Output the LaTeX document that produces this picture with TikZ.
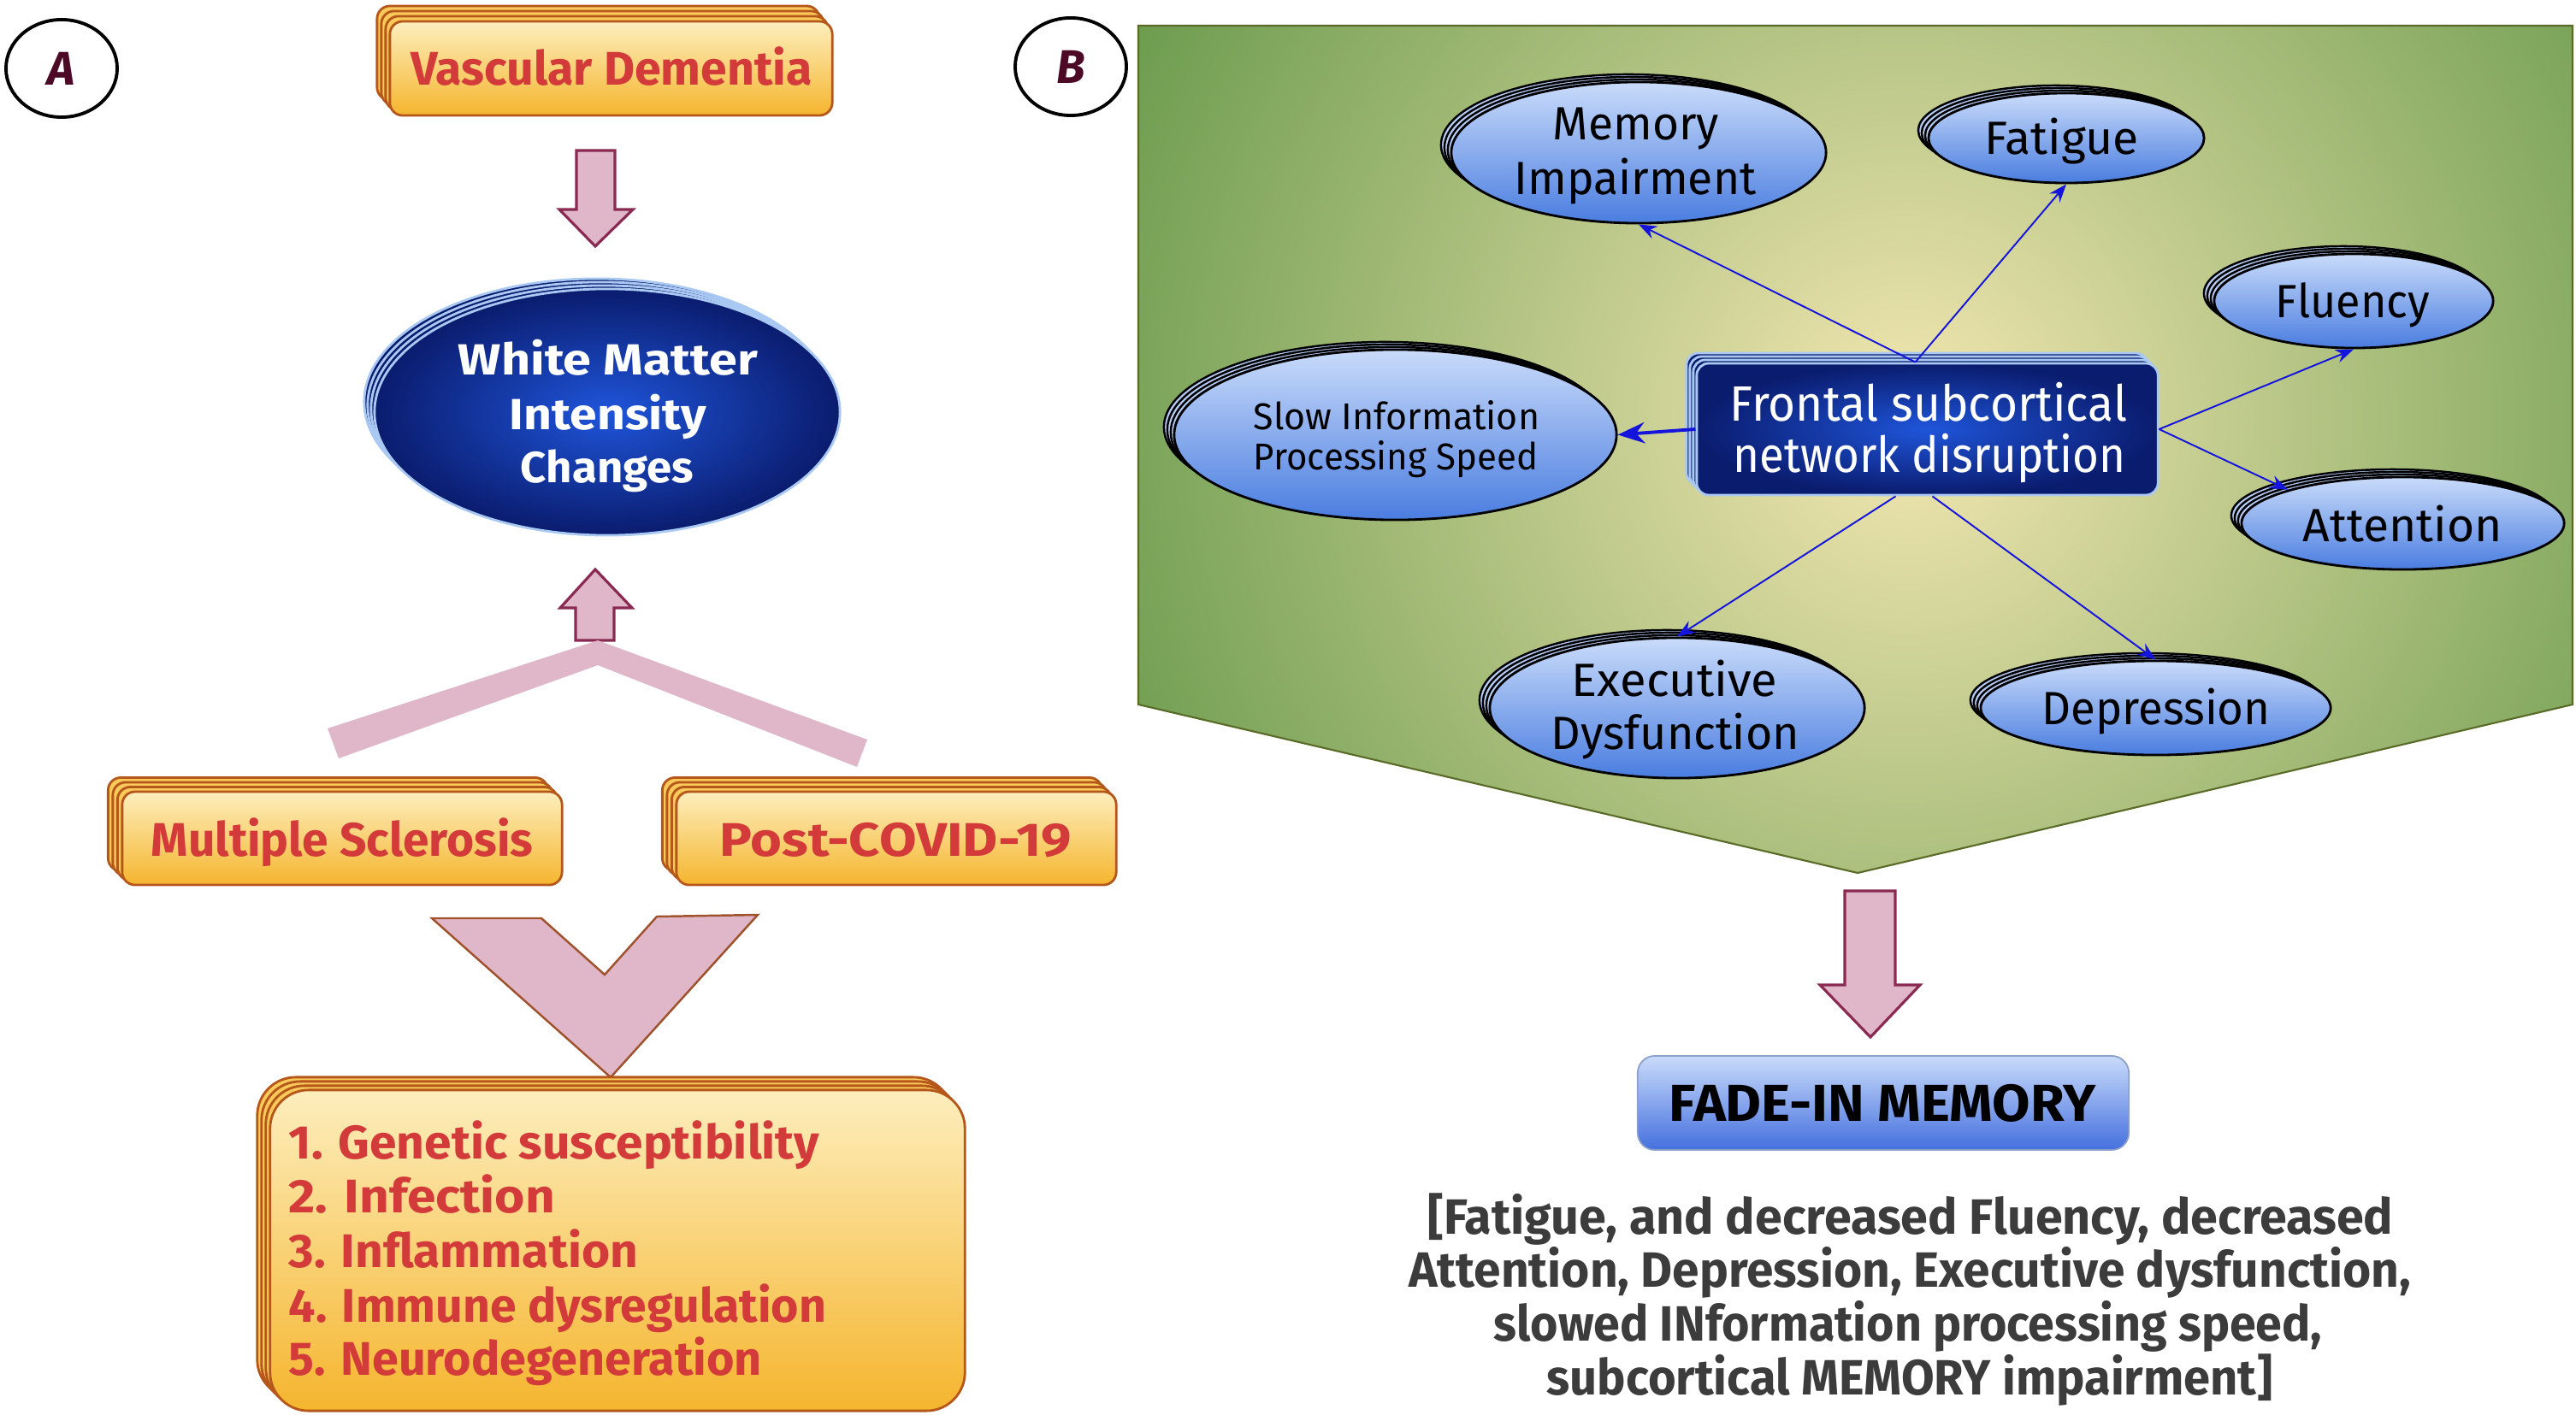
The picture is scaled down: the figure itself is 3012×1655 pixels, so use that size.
\documentclass[tikz,border=0pt]{standalone}
\usepackage{fontspec}
\setmainfont{Fira Sans}
\usetikzlibrary{shapes.geometric,arrows.meta}
\definecolor{redtxt}{HTML}{D33A3A}
\definecolor{obord}{HTML}{B5561A}
\definecolor{otop}{HTML}{FDEEBD}
\definecolor{obot}{HTML}{F5B52E}
\definecolor{olay}{HTML}{F9C95A}
\definecolor{pinkf}{HTML}{DFB7C9}
\definecolor{maroonb}{HTML}{8A2A52}
\definecolor{chevb}{HTML}{A0522D}
\definecolor{navyin}{HTML}{1F55DA}
\definecolor{navyout}{HTML}{0A1C6E}
\definecolor{lbord}{HTML}{A9C9F2}
\definecolor{btop}{HTML}{C9DBFA}
\definecolor{bbot}{HTML}{4A7DE0}
\definecolor{blay}{HTML}{B7CDF5}
\definecolor{gout}{HTML}{6E9D50}
\definecolor{gin}{HTML}{F3E7B2}
\definecolor{gbord}{HTML}{5A6B28}
\definecolor{linkb}{HTML}{1414DC}
\definecolor{grtxt}{HTML}{3C3C3C}
\definecolor{lettc}{HTML}{4C0A26}
\definecolor{fadebot}{HTML}{4570DF}
\definecolor{fadebord}{HTML}{8AA0C8}
\newcommand\fw[2]{\resizebox{#1cm}{\height}{#2}}
\newcommand\fsz[1]{\fontsize{#1}{#1}\selectfont}
% name, cx, cy, w(cm), h(cm), layer style, front style, dx, dy
\newcommand\stackbox[9]{%
  \foreach \k in {3,2,1}{\node[#6, minimum width=#4cm, minimum height=#5cm] at ({#2-#8*\k},{#3-#9*\k}) {};}%
  \node[#7, minimum width=#4cm, minimum height=#5cm] (#1) at (#2,#3) {};}
\tikzset{
  obox/.style={draw=obord, line width=0.8pt, rounded corners=0.15cm, top color=otop, bottom color=obot, inner sep=0},
  olayer/.style={draw=obord, line width=0.8pt, rounded corners=0.15cm, fill=olay, inner sep=0},
  oboxL/.style={obox, rounded corners=0.45cm},
  olayerL/.style={olayer, rounded corners=0.45cm},
  nell/.style={ellipse, draw=lbord, line width=0.8pt, inner color=navyin, outer color=navyout, inner sep=0},
  nlayer/.style={ellipse, draw=lbord, line width=0.8pt, fill=navyout, inner sep=0},
  fbox/.style={draw=lbord, line width=0.8pt, rounded corners=0.14cm, inner color=navyin, outer color=navyout, inner sep=0},
  flayer/.style={draw=lbord, line width=0.8pt, rounded corners=0.14cm, fill=navyout, inner sep=0},
  bell/.style={ellipse, draw=black, line width=0.8pt, top color=btop, bottom color=bbot, inner sep=0},
  blayer/.style={ellipse, draw=black, line width=0.7pt, fill=blay, inner sep=0},
  circ/.style={ellipse, draw=black, line width=1.1pt, minimum width=1.30cm, minimum height=1.14cm, inner sep=0, text=lettc, font=\fsz{15.7}\bfseries\itshape},
  lefttxt/.style={inner sep=0, anchor=base, text=redtxt, font=\fsz{15.7}\bfseries},
  listtxt/.style={lefttxt, anchor=base west},
  wtxt/.style={inner sep=0, anchor=base, text=white, font=\fsz{14.5}\bfseries},
  rtxt/.style={inner sep=0, anchor=base, text=black, font=\fsz{15.5}},
  stxt/.style={rtxt, font=\fsz{12.4}},
  fsntxt/.style={inner sep=0, anchor=base, text=white, font=\fsz{16.5}},
  gtxt/.style={inner sep=0, anchor=base, text=grtxt, font=\fsz{16.5}\bfseries},
  parrow/.style={fill=pinkf, draw=maroonb, line width=0.9pt, line join=miter},
  conn/.style={draw=linkb, line width=0.55pt, -{Stealth[length=6pt,width=4.5pt]}},
  connthick/.style={draw=linkb, line width=1.1pt, -{Stealth[length=9pt,width=7pt]}},
  fade/.style={draw=fadebord, line width=0.5pt, rounded corners=0.2cm, top color=btop, bottom color=fadebot, inner sep=0},
}
\begin{document}
\begin{tikzpicture}[x=0.01cm,y=-0.01cm]
\useasboundingbox[fill=white] (0,0) rectangle (3012,1655);

% ---------- Panel A ----------
\node[circ] (ca) at (72,80) {A};

\stackbox{vd}{714.5}{80}{5.17}{1.10}{olayer}{obox}{5}{6}
\node[lefttxt] (vdt) at (715,100) {\fw{4.69}{Vascular Dementia}};

\draw[parrow] (674,176) -- (719,176) -- (719,245) -- (740,245) -- (696,288) -- (654,245) -- (674,245) -- cycle;

\stackbox{wmi}{710}{482}{5.44}{2.88}{nlayer}{nell}{4}{4}
\node[wtxt] (wmi1) at (711,439) {\fw{3.50}{White Matter}};
\node[wtxt] (wmi2) at (711,502) {\fw{2.30}{Intensity}};
\node[wtxt] (wmi3) at (710,564) {\fw{2.02}{Changes}};

\draw[parrow] (696,666) -- (739,711) -- (718,711) -- (718,749) -- (673,749) -- (673,711) -- (655,711) -- cycle;
\fill[pinkf] (383,852) -- (699,749) -- (1014,865) -- (1002,897) -- (699,778) -- (396,887) -- cycle;

\stackbox{ms}{400}{980.5}{5.14}{1.09}{olayer}{obox}{5.5}{5.5}
\node[lefttxt] (mst) at (400,1001) {\fw{4.46}{Multiple Sclerosis}};
\stackbox{pc}{1048}{980.5}{5.14}{1.09}{olayer}{obox}{5.5}{5.5}
\node[lefttxt] (pct) at (1047.5,1001) {\fw{4.11}{Post-COVID-19}};

\draw[fill=pinkf, draw=chevb, line width=0.7pt, line join=miter] (505,1074) -- (633,1074) -- (707,1140) -- (768,1072) -- (886,1070) -- (714,1260) -- cycle;

\stackbox{lst}{722}{1462.5}{8.12}{3.75}{olayerL}{oboxL}{5}{5}
\node[listtxt] (l1) at (337,1355) {\fw{6.20}{1. Genetic susceptibility}};
\node[listtxt] (l2) at (337,1418) {\fw{3.11}{2. Infection}};
\node[listtxt] (l3) at (337,1482) {\fw{4.08}{3. Inflammation}};
\node[listtxt] (l4) at (337,1546) {\fw{6.28}{4. Immune dysregulation}};
\node[listtxt] (l5) at (337,1608) {\fw{5.53}{5. Neurodegeneration}};

% ---------- Panel B ----------
\node[circ] (cb) at (1252,78) {B};

\begin{scope}
\clip (1331,30) -- (3008,30) -- (3008,824) -- (2172,1021) -- (1331,824) -- cycle;
\fill[gout] (1331,30) rectangle (3008,1021);
\shade[inner color=gin, outer color=gout] (2230,490) circle[radius=10cm];
\end{scope}
\draw[gbord, line width=0.6pt, line join=miter] (1331,30) -- (3008,30) -- (3008,824) -- (2172,1021) -- (1331,824) -- cycle;

\stackbox{mem}{1916}{178.5}{4.38}{1.65}{blayer}{bell}{4}{3}
\node[rtxt] (memt1) at (1913,164) {\fw{1.94}{Memory}};
\node[rtxt] (memt2) at (1912,228) {\fw{2.83}{Impairment}};

\stackbox{fat}{2416}{161.5}{3.22}{1.05}{blayer}{bell}{4}{3}
\node[rtxt] (fatt) at (2411,181) {\fw{1.80}{Fatigue}};

\stackbox{flu}{2752}{352}{3.26}{1.10}{blayer}{bell}{4}{3}
\node[rtxt] (flut) at (2751,372) {\fw{1.80}{Fluency}};

\stackbox{slow}{1631.5}{508.5}{5.17}{1.99}{blayer}{bell}{4}{3}
\node[stxt] (slowt1) at (1633,502) {\fw{3.34}{Slow Information}};
\node[stxt] (slowt2) at (1632,549) {\fw{3.32}{Processing Speed}};

\stackbox{att}{2809.5}{612}{3.77}{1.08}{blayer}{bell}{4}{3}
\node[rtxt] (attt) at (2809,633) {\fw{2.33}{Attention}};

\stackbox{exe}{1961}{828}{4.38}{1.64}{blayer}{bell}{4}{3}
\node[rtxt] (exet1) at (1958,814) {\fw{2.40}{Executive}};
\node[rtxt] (exet2) at (1959,876) {\fw{2.90}{Dysfunction}};

\stackbox{dep}{2520.5}{828}{4.09}{1.10}{blayer}{bell}{4}{3}
\node[rtxt] (dept) at (2521,847) {\fw{2.67}{Depression}};

\stackbox{fsn}{2253.5}{502}{5.39}{1.54}{flayer}{fbox}{4}{4}
\node[fsntxt] (fsnt1) at (2255,492) {\fw{4.64}{Frontal subcortical}};
\node[fsntxt] (fsnt2) at (2256,553) {\fw{4.59}{network disruption}};

\draw[conn] ([xshift=-0.14cm]fsn.north) -- (mem.south);
\draw[conn] ([xshift=-0.14cm]fsn.north) -- (fat.south);
\draw[conn] (fsn.east) -- (flu.south);
\draw[conn] (fsn.east) -- (att.north west);
\draw[connthick] (fsn.west) -- (slow.east);
\draw[conn] ([xshift=-0.37cm]fsn.south) -- (exe.north);
\draw[conn] ([xshift=0.06cm]fsn.south) -- (dep.north);

\draw[parrow] (2157,1042) -- (2216,1042) -- (2216,1152) -- (2245,1152) -- (2187,1213) -- (2128,1152) -- (2157,1152) -- cycle;

\node[fade, minimum width=5.74cm, minimum height=1.10cm] (fade) at (2202,1290) {};
\node[inner sep=0, anchor=base, text=black, font=\fsz{17.3}\bfseries] (fadet) at (2201,1311) {\fw{4.98}{FADE-IN MEMORY}};

\node[gtxt] (g1) at (2234,1443) {\fw{11.28}{[Fatigue, and decreased Fluency, decreased}};
\node[gtxt] (g2) at (2233,1505) {\fw{11.71}{Attention, Depression, Executive dysfunction,}};
\node[gtxt] (g3) at (2231,1568) {\fw{9.68}{slowed INformation processing speed,}};
\node[gtxt] (g4) at (2233,1631) {\fw{8.48}{subcortical MEMORY impairment]}};
\end{tikzpicture}
\end{document}
